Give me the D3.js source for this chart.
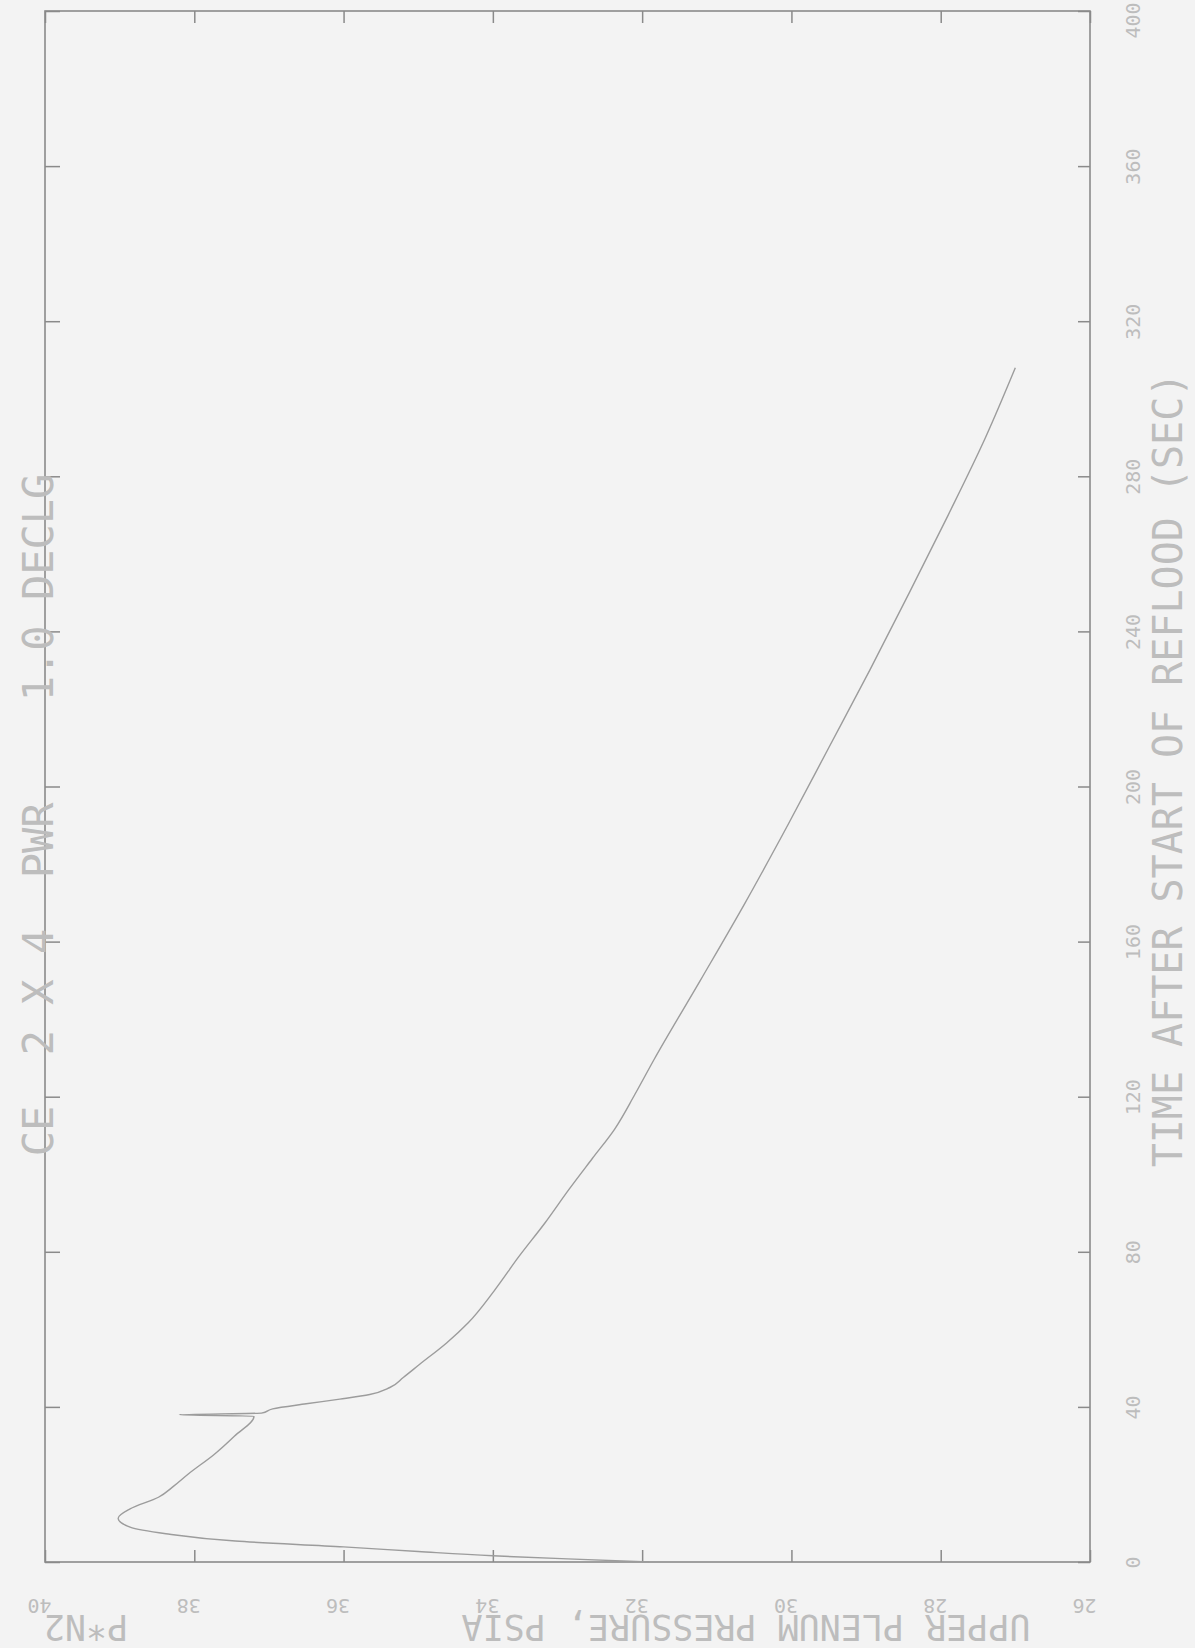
<!DOCTYPE html>
<html>
<head>
<meta charset="utf-8">
<script src="https://cdn.jsdelivr.net/npm/d3@7"></script>
<style>
  body { margin: 0; background: #f3f3f3; }
  text { font-family: "DejaVu Sans Mono", "Liberation Mono", monospace; white-space: pre; }
</style>
</head>
<body>
<div id="chart-area"></div>
<script>
// time after start of reflood (sec) and upper plenum pressure (psia)
var timeSec = [0, 0.8, 1.6, 2.7, 3.9, 5.4, 7.3, 9.0, 11.3, 13.7, 16.7, 19.5, 22.7, 27.8, 32.5,
               37.6, 38.0, 38.4, 39.5, 40.8, 42.0, 43.2, 45.0, 47.6, 51.0, 56.5, 61.7, 70, 78.8,
               87.5, 96.1, 104, 111.6, 120.5, 129.6, 150, 170, 190, 210, 230, 250, 270, 290, 308];
var pressurePsia = [31.9, 33.0, 34.0, 35.0, 36.0, 37.45, 38.38, 38.86, 39.02, 38.86, 38.48, 38.28, 38.08, 37.73, 37.46,
                    37.2, 38.2, 37.1, 36.95, 36.5, 36.05, 35.65, 35.38, 35.2, 34.98, 34.62, 34.33, 33.98, 33.65,
                    33.3, 32.98, 32.67, 32.37, 32.1, 31.84, 31.22, 30.62, 30.05, 29.5, 28.95, 28.42, 27.9, 27.4, 27.0];
var timeTicks = [0, 40, 80, 120, 160, 200, 240, 280, 320, 360, 400];
var pressureTicks = [40, 38, 36, 34, 32, 30, 28, 26];
var title = "CE  2 X 4  PWR    1.0 DECLG";
var timeLabel = "TIME AFTER START OF REFLOOD (SEC)";
var pressureLabel = "UPPER PLENUM PRESSURE, PSIA";
var cornerLabel = "P*N2";

var margin = {top: 11, right: 105, bottom: 86, left: 45};
var width = 1195 - margin.left - margin.right;
var height = 1648 - margin.top - margin.bottom;
var ink = "#8a8a8a";
var faint = "#bdbdbd";

var svg = d3.select("#chart-area").append("svg")
    .attr("width", 1195)
    .attr("height", 1648);
svg.append("rect").attr("width", 1195).attr("height", 1648).attr("fill", "#f3f3f3");

var g = svg.append("g")
    .attr("transform", "translate(" + margin.left + "," + margin.top + ")");

// the sheet is turned: time runs up the page, pressure runs right-to-left
var y = d3.scaleLinear().domain([0, 400]).range([height, 0]);
var x = d3.scaleLinear().domain([40, 26]).range([0, width]);

function styleAxis(sel) {
  sel.select(".domain").remove();
  sel.selectAll("line").attr("stroke", ink).attr("stroke-width", 1.5);
  sel.selectAll("text").attr("fill", faint).style("font-size", "20px");
}

// right: time ticks + labels reading upward
g.append("g")
    .attr("transform", "translate(" + width + ",0)")
    .call(d3.axisRight(y).tickValues(timeTicks).tickSize(-12))
    .call(styleAxis)
  .selectAll("text")
    .attr("x", 0)
    .attr("dy", 0)
    .attr("dx", (d) => { return d === 400 ? -9 : 0; })
    .attr("text-anchor", "middle")
    .attr("transform", "translate(50,0) rotate(-90)");

// left: plain inward ticks
g.append("g")
    .call(d3.axisLeft(y).tickValues(timeTicks).tickSize(-15).tickFormat(""))
    .call(styleAxis);

// bottom: pressure ticks, labels upside down
g.append("g")
    .attr("transform", "translate(0," + height + ")")
    .call(d3.axisBottom(x).tickValues(pressureTicks).tickSize(-12))
    .call(styleAxis)
  .selectAll("text")
    .attr("y", 0)
    .attr("dy", 0)
    .attr("text-anchor", "middle")
    .attr("transform", "translate(-6,37) rotate(180)");

// top: plain inward ticks
g.append("g")
    .call(d3.axisTop(x).tickValues(pressureTicks).tickSize(-12).tickFormat(""))
    .call(styleAxis);

g.append("rect")
    .attr("width", width)
    .attr("height", height)
    .attr("fill", "none")
    .attr("stroke", ink)
    .attr("stroke-width", 1.6);

var points = timeSec.map((t, i) => [t, pressurePsia[i]]);
var line = d3.line()
    .x((d) => { return x(d[1]); })
    .y((d) => { return y(d[0]); })
    .curve(d3.curveMonotoneY);

g.append("path")
    .datum(points)
    .attr("d", line)
    .attr("fill", "none")
    .attr("stroke", "#9c9c9c")
    .attr("stroke-width", 1.4);

svg.append("text")
    .attr("transform", "translate(53,815) rotate(-90)")
    .attr("text-anchor", "middle")
    .attr("fill", faint)
    .style("font-size", "42px")
    .text(title);

svg.append("text")
    .attr("transform", "translate(1182,770) rotate(-90)")
    .attr("text-anchor", "middle")
    .attr("fill", faint)
    .style("font-size", "40px")
    .text(timeLabel);

svg.append("text")
    .attr("transform", "translate(746,1615) rotate(180)")
    .attr("text-anchor", "middle")
    .attr("fill", faint)
    .style("font-size", "35px")
    .text(pressureLabel);

svg.append("text")
    .attr("transform", "translate(86,1615) rotate(180)")
    .attr("text-anchor", "middle")
    .attr("fill", faint)
    .style("font-size", "35px")
    .text(cornerLabel);
</script>
</body>
</html>
